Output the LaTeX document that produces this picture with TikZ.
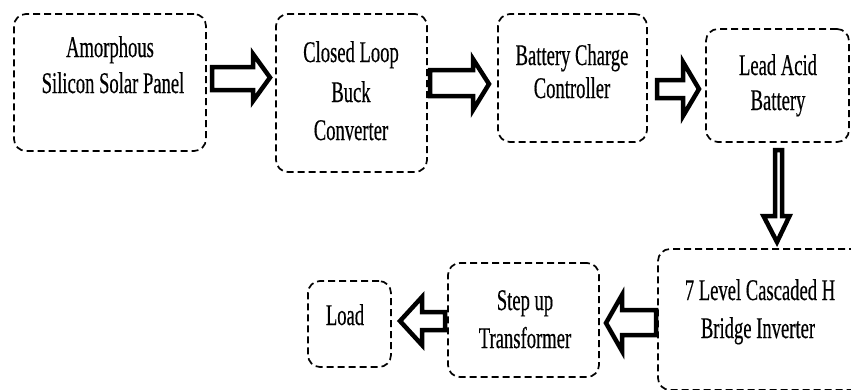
\documentclass[tikz,border=0pt]{standalone}
\usepackage{fontspec}
\setmainfont{Liberation Serif}[FakeStretch=0.62,FakeBold=0.4]
\begin{document}
\begin{tikzpicture}[x=1pt,y=-1pt,
  box/.style={draw, rounded corners=12pt, line width=1.7pt, dash pattern=on 7pt off 4pt, inner sep=0pt},
  txt/.style={inner sep=0pt, anchor=base, font=\fontsize{30}{36}\selectfont},
  blockarrow/.style={draw, line width=4.5pt, fill=white, line join=miter, miter limit=20}]
\useasboundingbox (0,0) rectangle (851,389);
% boxes
\node[box, minimum width=192pt, minimum height=137pt] (b1) at (110,82.5) {};
\node[box, minimum width=151pt, minimum height=158pt] (b2) at (351.5,93) {};
\node[box, minimum width=149pt, minimum height=128pt] (b3) at (572.5,78) {};
\node[box, minimum width=143pt, minimum height=113pt] (b4) at (777.5,85.5) {};
\node[box, minimum width=210pt, minimum height=141pt] (b5) at (763,319.5) {};
\node[box, minimum width=151pt, minimum height=114pt] (b6) at (523.5,320) {};
\node[box, minimum width=83pt, minimum height=86pt] (b7) at (349.5,324) {};
% texts
\node[txt] (t1a) at (110,57) {Amorphous};
\node[txt] (t1b) at (113,93) {Silicon Solar Panel};
\node[txt] (t2a) at (351,62) {Closed Loop};
\node[txt] (t2b) at (351,102) {Buck};
\node[txt] (t2c) at (351,140) {Converter};
\node[txt] (t3a) at (572,65) {Battery Charge};
\node[txt] (t3b) at (572,98) {Controller};
\node[txt] (t4a) at (778,75) {Lead Acid};
\node[txt] (t4b) at (778,110) {Battery};
\node[txt] (t5a) at (760,300) {7 Level Cascaded H};
\node[txt] (t5b) at (758,338) {Bridge Inverter};
\node[txt] (t6a) at (525,310) {Step up};
\node[txt] (t6b) at (525,348) {Transformer};
\node[txt] (t7a) at (345,325) {Load};
% block arrows
\draw[blockarrow] (212,67) -- (253,67) -- (253,54) -- (270,77.5) -- (253,101) -- (253,90) -- (212,90) -- cycle;
\draw[blockarrow] (430,70) -- (473,70) -- (473,59) -- (489,84) -- (473,110) -- (473,96) -- (430,96) -- cycle;
\draw[blockarrow] (657,80) -- (683,80) -- (683,62) -- (699,89) -- (683,116) -- (683,98) -- (657,98) -- cycle;
\draw[blockarrow] (775,150) -- (775,216) -- (763.5,216) -- (777,242) -- (789.5,216) -- (782,216) -- (782,150) -- cycle;
\draw[blockarrow] (656,310) -- (622,310) -- (622,295) -- (606,323) -- (622,351) -- (622,335) -- (656,335) -- cycle;
\draw[blockarrow] (445,312) -- (422,312) -- (422,297) -- (400,321) -- (422,345) -- (422,330) -- (445,330) -- cycle;
\end{tikzpicture}
\end{document}
